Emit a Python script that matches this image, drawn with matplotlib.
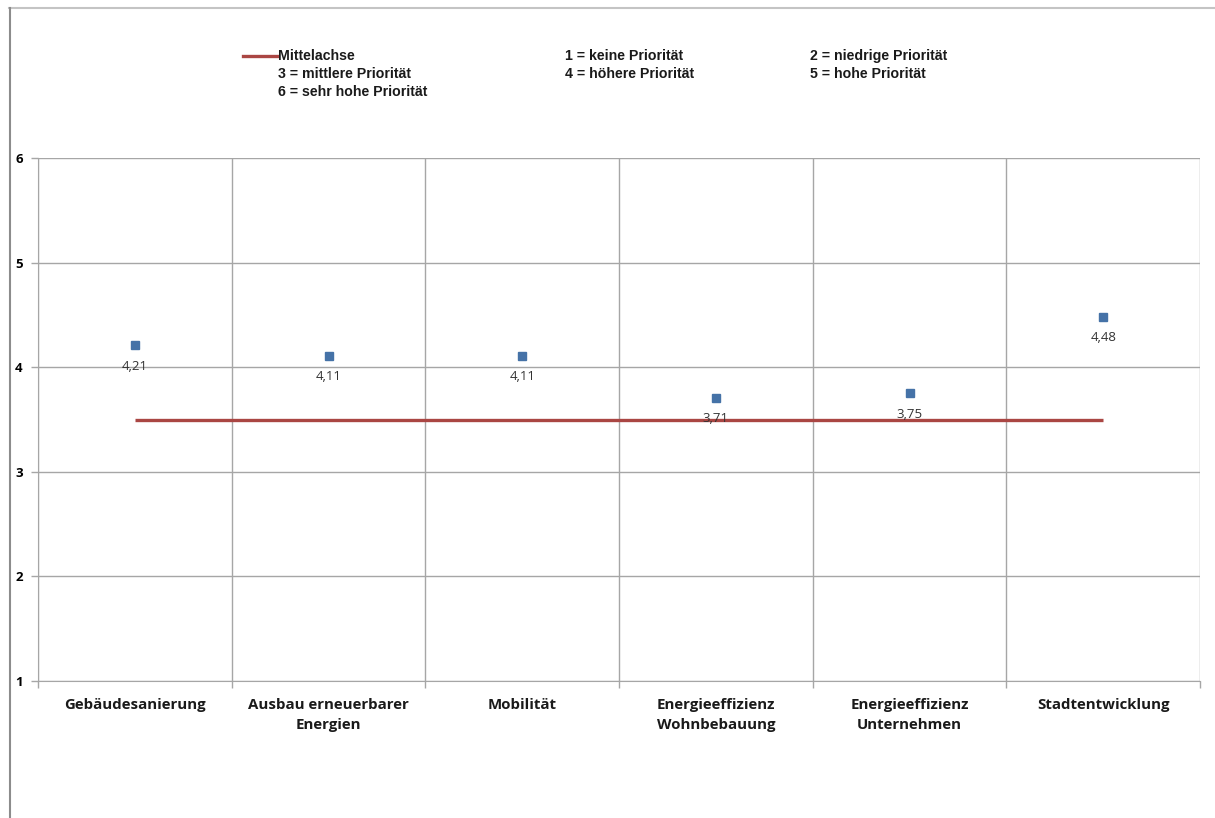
import matplotlib
matplotlib.use("Agg")
import matplotlib.pyplot as plt
from matplotlib.lines import Line2D
from matplotlib import font_manager

# --- data -------------------------------------------------------------
categories = [
    "Gebäudesanierung",
    "Ausbau erneuerbarer\nEnergien",
    "Mobilität",
    "Energieeffizienz\nWohnbebauung",
    "Energieeffizienz\nUnternehmen",
    "Stadtentwicklung",
]
mean_values = [4.21, 4.11, 4.11, 3.71, 3.75, 4.48]
midline_value = 3.5
y_ticks = [1, 2, 3, 4, 5, 6]
legend_line_label = "Mittelachse"
legend_notes = [
    "1 = keine Priorität", "2 = niedrige Priorität",
    "3 = mittlere Priorität", "4 = höhere Priorität", "5 = hohe Priorität",
    "6 = sehr hohe Priorität",
]

# --- fonts ------------------------------------------------------------
available = {f.name for f in font_manager.fontManager.ttflist}
narrow = "Liberation Sans Narrow" if "Liberation Sans Narrow" in available else "Liberation Sans"
main_font = "Open Sans" if "Open Sans" in available else "DejaVu Sans"

blue = "#4572A7"
red = "#AA4643"
grid_col = "#a6a6a6"

W, H = 1215, 818
fig = plt.figure(figsize=(W / 100, H / 100), dpi=100)

left, right, top, bottom = 38, 1200, 158, 681
ax = fig.add_axes([left / W, 1 - bottom / H, (right - left) / W, (bottom - top) / H])

x = list(range(len(categories)))
ax.set_xlim(-0.5, len(categories) - 0.5)
ax.set_ylim(min(y_ticks), max(y_ticks))

# grid: horizontal at value ticks, vertical at category boundaries
ax.set_yticks(y_ticks)
ax.set_yticklabels([str(t) for t in y_ticks], fontfamily=main_font,
                   fontweight="bold", fontsize=9.5)
bounds = [i - 0.5 for i in range(len(categories) + 1)]
ax.set_xticks(bounds)
ax.set_xticklabels([])
ax.grid(True, color=grid_col, linewidth=1.0)
ax.set_axisbelow(True)
ax.tick_params(axis="both", direction="out", length=5, color=grid_col, width=1.0)
ax.tick_params(axis="y", pad=6)
for s in ax.spines.values():
    s.set_visible(False)
ax.spines["left"].set_visible(True)
ax.spines["bottom"].set_visible(True)
ax.spines["left"].set_color(grid_col)
ax.spines["bottom"].set_color(grid_col)

# category labels centred under each column
for xi, cat in zip(x, categories):
    ax.annotate(cat, (xi, 0), xycoords=ax.get_xaxis_transform(),
                xytext=(0, -12.5), textcoords="offset points", ha="center", va="top",
                fontfamily=main_font, fontweight="bold", fontsize=10.8,
                linespacing=1.5, color="#1a1a1a")

# reference line at the scale midpoint
ax.plot([x[0], x[-1]], [midline_value] * 2, color=red, linewidth=2.4,
        solid_capstyle="butt", zorder=3)

# mean values with data labels
ax.plot(x, mean_values, linestyle="none", marker="s", markersize=6,
        color=blue, zorder=4)
for xi, v in zip(x, mean_values):
    ax.annotate(f"{v:.2f}".replace(".", ","), (xi, v), xytext=(0, -15),
                textcoords="offset points", ha="center", va="center",
                fontfamily=main_font, fontsize=9.5, color="#333333", zorder=5)

# legend block drawn in figure coordinates
fig.add_artist(Line2D([243 / W, 277 / W], [1 - 56 / H] * 2, color=red, linewidth=2.4,
                      transform=fig.transFigure))
cols = [278, 565, 810]
rows = [56, 74, 92]
entries = [legend_line_label] + legend_notes
for i, txt in enumerate(entries):
    r, c = divmod(i, 3)
    fig.text(cols[c] / W, 1 - rows[r] / H, txt, ha="left", va="center",
             fontfamily=narrow, fontweight="bold", fontsize=10.2, color="#1a1a1a")

# outer frame edges
fig.add_artist(Line2D([9 / W, 1.0], [1 - 8 / H] * 2, color="#c4c4c4", linewidth=1.5,
                      transform=fig.transFigure))
fig.add_artist(Line2D([9.5 / W] * 2, [0, 1 - 8 / H], color="#8c8c8c", linewidth=1.5,
                      transform=fig.transFigure))

fig.savefig("out.png", dpi=100, facecolor="white")
